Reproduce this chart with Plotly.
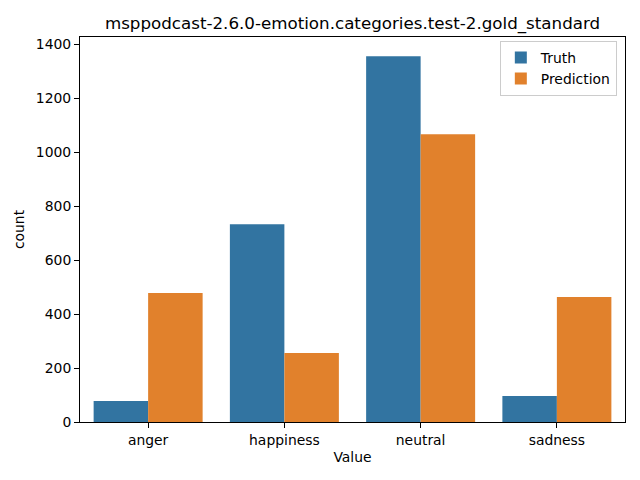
import plotly.graph_objects as go

categories = ["anger", "happiness", "neutral", "sadness"]
truth = [78, 733, 1356, 96]
prediction = [478, 256, 1067, 463]
y_ticks = [0, 200, 400, 600, 800, 1000, 1200, 1400]

BLUE = "#3274A1"
ORANGE = "#E1812C"
FONT = "DejaVu Sans, sans-serif"

fig = go.Figure()

fig.add_trace(
    go.Bar(x=categories, y=truth, name="Truth", marker=dict(color=BLUE, line=dict(width=0)))
)
fig.add_trace(
    go.Bar(x=categories, y=prediction, name="Prediction", marker=dict(color=ORANGE, line=dict(width=0)))
)

axis_style = dict(
    showline=True,
    linewidth=1,
    linecolor="black",
    mirror=True,
    ticks="outside",
    ticklen=5,
    tickwidth=1,
    tickcolor="black",
    showgrid=False,
    zeroline=False,
    tickfont=dict(size=13.9, color="black"),
)

fig.update_xaxes(
    axis_style,
    range=[-0.5, 3.5],
    title=dict(text="Value", font=dict(size=13.9, color="black"), standoff=5),
)
fig.update_yaxes(
    axis_style,
    range=[0, 1427],
    tickvals=y_ticks,
    title=dict(text="count", font=dict(size=13.9, color="black"), standoff=7),
)

fig.update_layout(
    width=640,
    height=480,
    barmode="group",
    bargap=0.2,
    bargroupgap=0,
    plot_bgcolor="white",
    paper_bgcolor="white",
    font=dict(family=FONT, size=13.9, color="black"),
    margin=dict(l=80, r=15, t=37, b=58),
    title=dict(
        text="msppodcast-2.6.0-emotion.categories.test-2.gold_standard",
        font=dict(size=16.7, color="black"),
        x=(80 + 625) / 2 / 640,
        xanchor="center",
        y=1 - 23 / 480,
        yanchor="middle",
    ),
    legend=dict(
        x=0.985,
        y=0.99,
        xanchor="right",
        yanchor="top",
        bgcolor="rgba(255,255,255,0.8)",
        bordercolor="#cccccc",
        borderwidth=1,
        font=dict(size=13.9),
    ),
)

# the page has an 8px body margin by default; drop it so the figure sits at 0,0
fig.write_html(
    "out.html",
    config={"displayModeBar": False},
    post_script="document.body.style.margin='0';",
)
